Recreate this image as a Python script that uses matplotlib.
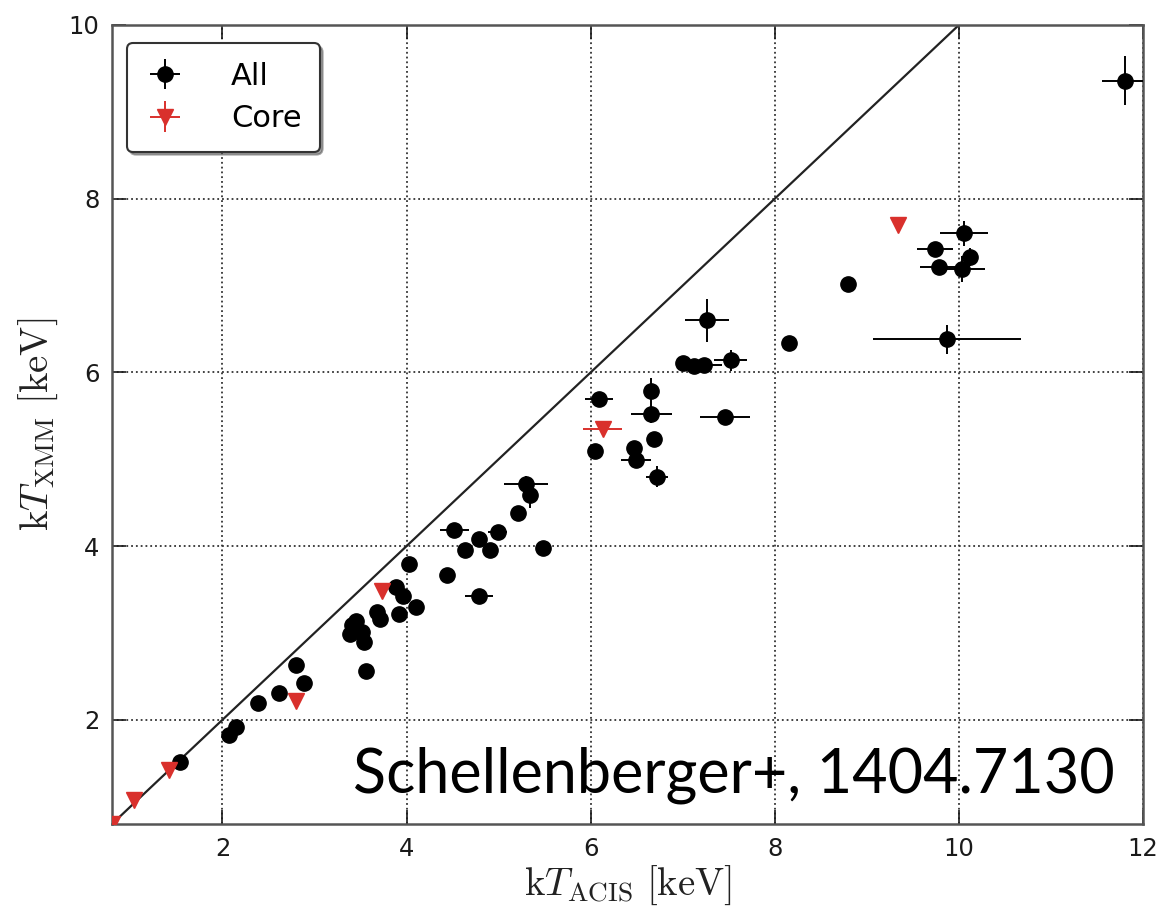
import matplotlib
matplotlib.use("Agg")
import matplotlib.pyplot as plt

plt.rcParams['mathtext.fontset'] = 'cm'
plt.rcParams['font.family'] = ['DejaVu Sans']

# Full-aperture temperatures (Chandra ACIS vs XMM)
all_x = [1.54, 2.07, 2.15, 2.385, 2.61, 2.80, 2.89, 3.56, 3.41, 3.39,
         3.52, 3.54, 3.45, 3.68, 3.71, 3.88, 3.92, 3.96, 4.10, 4.03,
         4.44, 4.79, 4.63, 4.52, 4.79, 4.91, 4.99, 5.48, 5.21, 5.34,
         5.30, 6.05, 6.09, 6.47, 6.49, 6.69, 6.66, 6.66, 6.72, 7.46,
         7.26, 7.00, 7.12, 7.23, 7.52, 8.15, 8.80, 10.06, 9.74, 10.12,
         9.78, 10.03, 9.87, 11.80]
all_y = [1.51, 1.83, 1.92, 2.19, 2.31, 2.63, 2.42, 2.56, 3.09, 2.99,
         3.01, 2.90, 3.14, 3.24, 3.16, 3.53, 3.22, 3.43, 3.30, 3.79,
         3.67, 3.42, 3.96, 4.19, 4.08, 3.95, 4.16, 3.98, 4.38, 4.59,
         4.71, 5.09, 5.69, 5.13, 4.99, 5.23, 5.52, 5.78, 4.80, 5.49,
         6.60, 6.11, 6.07, 6.08, 6.14, 6.34, 7.02, 7.60, 7.42, 7.33,
         7.21, 7.19, 6.38, 9.36]
all_xerr = [0.05, 0.05, 0.05, 0.05, 0.05, 0.05, 0.05, 0.05, 0.05, 0.05,
            0.05, 0.05, 0.05, 0.05, 0.05, 0.05, 0.05, 0.05, 0.05, 0.05,
            0.05, 0.15, 0.05, 0.16, 0.05, 0.05, 0.10, 0.05, 0.05, 0.08,
            0.24, 0.05, 0.15, 0.05, 0.16, 0.05, 0.22, 0.05, 0.12, 0.27,
            0.24, 0.05, 0.05, 0.20, 0.18, 0.05, 0.08, 0.26, 0.20, 0.05,
            0.20, 0.25, 0.80, 0.25]
all_yerr = [0.05, 0.05, 0.05, 0.05, 0.05, 0.05, 0.05, 0.05, 0.05, 0.05,
            0.05, 0.05, 0.05, 0.05, 0.05, 0.05, 0.05, 0.05, 0.05, 0.05,
            0.05, 0.05, 0.05, 0.05, 0.05, 0.05, 0.05, 0.05, 0.05, 0.15,
            0.10, 0.05, 0.05, 0.05, 0.05, 0.05, 0.10, 0.16, 0.12, 0.05,
            0.25, 0.05, 0.08, 0.05, 0.12, 0.05, 0.05, 0.14, 0.05, 0.10,
            0.05, 0.15, 0.17, 0.28]

# Core-region temperatures
core_x = [0.80, 1.04, 1.42, 2.80, 3.73, 6.13, 9.34]
core_y = [0.80, 1.08, 1.42, 2.22, 3.48, 5.35, 7.70]
core_xerr = [0.03, 0.03, 0.03, 0.03, 0.03, 0.21, 0.03]
core_yerr = [0.03, 0.03, 0.03, 0.03, 0.03, 0.03, 0.03]

x_ticks = [2, 4, 6, 8, 10, 12]
y_ticks = [2, 4, 6, 8, 10]

W, H = 1165, 914
fig = plt.figure(figsize=(W / 100, H / 100), dpi=100)
ax = fig.add_axes([112 / W, 1 - 824 / H, (1143 - 112) / W, (824 - 25) / H])

red = '#d9302c'
# one-to-one line
ax.plot([0, 12], [0, 12], color='#222222', lw=1.6, zorder=2)
ax.errorbar(all_x, all_y, xerr=all_xerr, yerr=all_yerr, fmt='o', color='k',
            ms=11, elinewidth=1.4, capsize=0, label='All', zorder=3)
ax.errorbar(core_x, core_y, xerr=core_xerr, yerr=core_yerr, fmt='v', color=red,
            ecolor=red, ms=11, elinewidth=1.4, capsize=0, label='Core', zorder=4)

ax.set_xlim(0.8, 12)
ax.set_ylim(0.8, 10)
ax.set_xticks(x_ticks)
ax.set_yticks(y_ticks)
ax.tick_params(direction='in', length=10, width=1.2, labelsize=17.5, top=True,
               right=True, pad=9, colors='#1a1a1a')
ax.grid(True, color='#333333', linestyle=':', lw=1.3)
for s in ax.spines.values():
    s.set_color('#555555')
    s.set_linewidth(1.8)

ax.set_xlabel(r'$\mathrm{k}T_{\mathrm{ACIS}}\ [\mathrm{keV}]$', fontsize=28,
              color='#222222', labelpad=2)
ax.set_ylabel(r'$\mathrm{k}T_{\mathrm{XMM}}\ [\mathrm{keV}]$', fontsize=28,
              color='#222222', labelpad=6)

leg = ax.legend(loc='upper left', bbox_to_anchor=(0.0145, 0.977), borderaxespad=0,
                fontsize=22, handlelength=1.3, handletextpad=1.5, labelspacing=0.45,
                borderpad=0.6, fancybox=True, shadow=True, numpoints=1)
leg.get_frame().set_edgecolor('#333333')
leg.get_frame().set_linewidth(1.5)

ax.text(0.973, 0.039, 'Schellenberger+, 1404.7130', transform=ax.transAxes,
        ha='right', va='baseline', fontsize=44, family=['Lato', 'DejaVu Sans'],
        color='k', zorder=6)

fig.savefig('out.png', dpi=100)
